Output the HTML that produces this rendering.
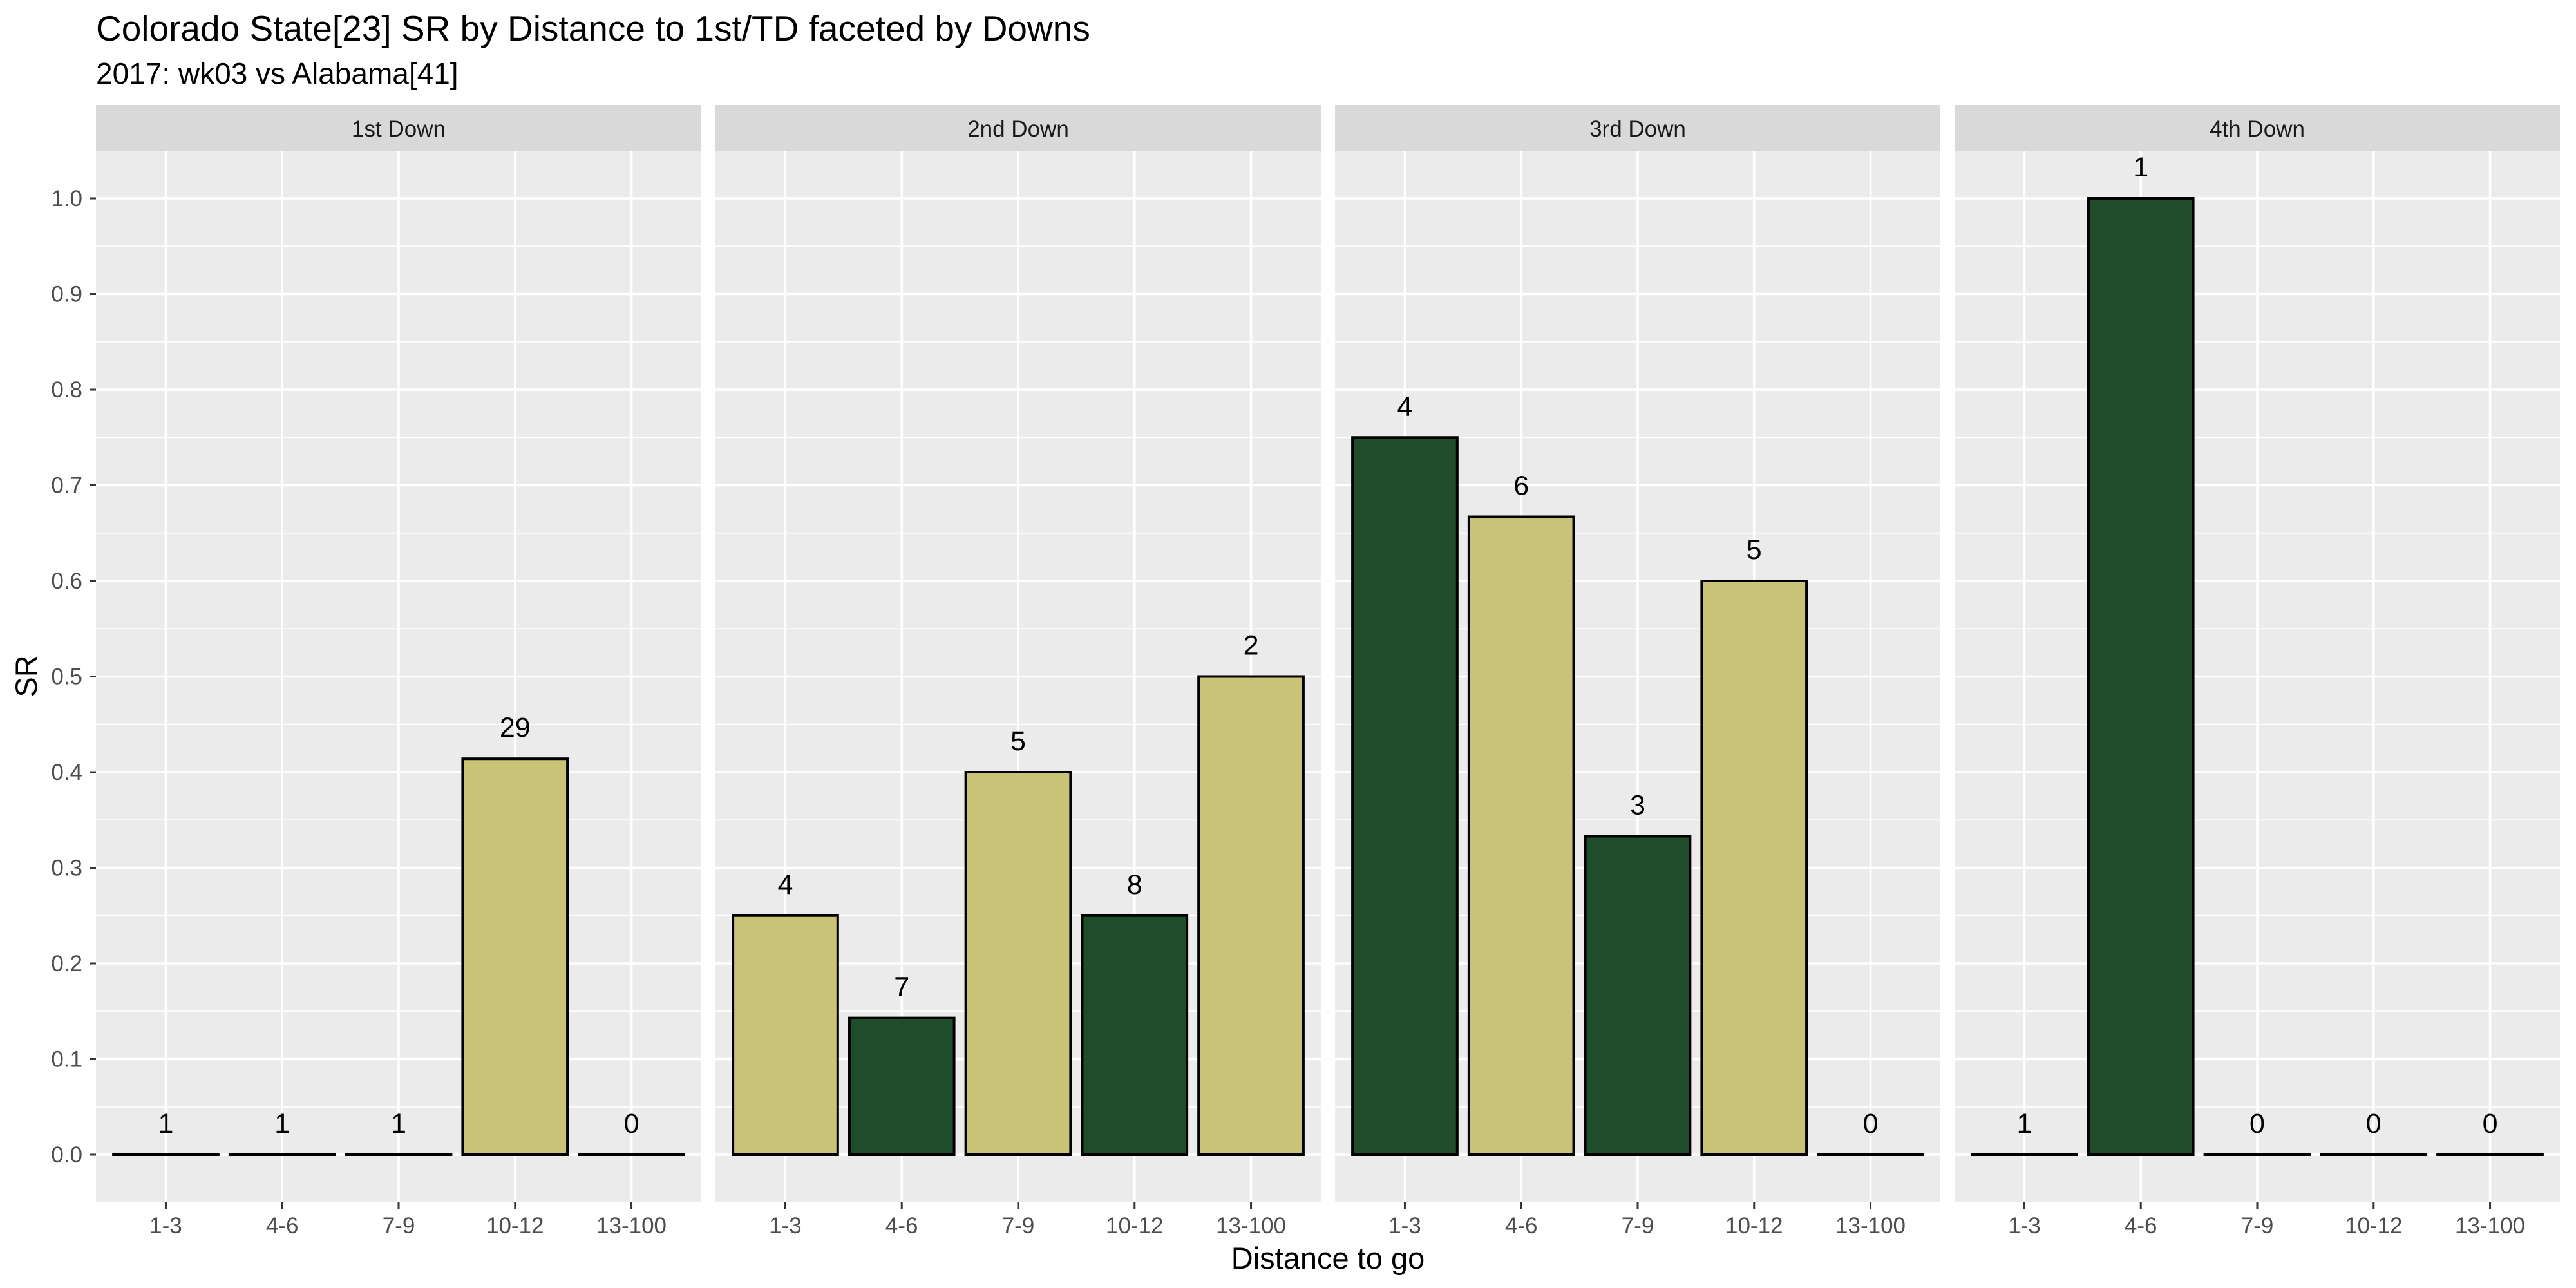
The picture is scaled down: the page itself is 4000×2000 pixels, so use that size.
<!DOCTYPE html>
<html><head><meta charset="utf-8"><style>
html,body{margin:0;padding:0;background:#fff}
svg{display:block;font-family:"Liberation Sans",Arial,sans-serif}
</style></head><body>
<svg id="chart" width="4000" height="2000" viewBox="0 0 4000 2000" xmlns="http://www.w3.org/2000/svg">
<rect width="4000" height="2000" fill="#fff"/>
<text x="149" y="63" font-size="55" fill="#000">Colorado State[23] SR by Distance to 1st/TD faceted by Downs</text>
<text x="149" y="130" font-size="46" fill="#000">2017: wk03 vs Alabama[41]</text>
<text transform="translate(57,1050) rotate(-90)" text-anchor="middle" font-size="47" fill="#000">SR</text>
<text x="2062" y="1970" text-anchor="middle" font-size="47" fill="#000">Distance to go</text>
<g id="plots"></g>
</svg>
<script>
const facets = ["1st Down","2nd Down","3rd Down","4th Down"];
const categories = ["1-3","4-6","7-9","10-12","13-100"];
const srDown1 = [0, 0, 0, 0.414, 0];
const srDown2 = [0.25, 0.143, 0.4, 0.25, 0.5];
const srDown3 = [0.75, 0.667, 0.333, 0.6, 0];
const srDown4 = [0, 1.0, 0, 0, 0];
const countDown1 = ["1","1","1","29","0"];
const countDown2 = ["4","7","5","8","2"];
const countDown3 = ["4","6","3","5","0"];
const countDown4 = ["1","1","0","0","0"];
const groupDown1 = ["k","k","k","k","k"];
const groupDown2 = ["k","g","k","g","k"];
const groupDown3 = ["g","k","g","k","g"];
const groupDown4 = ["g","g","g","g","g"];
const yTicks = [0,0.1,0.2,0.3,0.4,0.5,0.6,0.7,0.8,0.9,1.0];
const yTickLabels = ["0.0","0.1","0.2","0.3","0.4","0.5","0.6","0.7","0.8","0.9","1.0"];

const srs=[srDown1,srDown2,srDown3,srDown4];
const counts=[countDown1,countDown2,countDown3,countDown4];
const groups=[groupDown1,groupDown2,groupDown3,groupDown4];
const colors={k:"#C8C376",g:"#1F4D2B"};
const NS="http://www.w3.org/2000/svg";
const panelLeft0=149, panelW=940, gap=22, stripTop=163, panelTop=235, panelBot=1867;
const y0px=1793, y1px=308;
function yScale(v){return y0px+(y1px-y0px)*v;}
const band=panelW/5.2;
function xScale(p,i){return panelLeft0+p*(panelW+gap)+band*(0.6+i);}
const root=document.getElementById('plots');
function mk(tag,attrs,parent){const e=document.createElementNS(NS,tag);for(const k in attrs)e.setAttribute(k,attrs[k]);(parent||root).appendChild(e);return e;}

yTicks.forEach((t,i)=>{
  const y=yScale(t);
  const l=mk('line',{x1:139,x2:149,y1:y,y2:y,stroke:'#333','stroke-width':3});
  
  
  const tx=mk('text',{x:128,y:y+12,'text-anchor':'end','font-size':35,fill:'#4d4d4d'});
  tx.textContent=yTickLabels[i];
  
  
});

facets.forEach((f,p)=>{
  const px=panelLeft0+p*(panelW+gap);
  const g=mk('g',{});
  
  
  const strip=mk('rect',{x:px,y:stripTop,width:panelW,height:panelTop-stripTop,fill:'#D9D9D9'},g);
  
  
  const st=mk('text',{x:px+panelW/2,y:212,'text-anchor':'middle','font-size':35,fill:'#1a1a1a'},g);
  st.textContent=f;
  
  
  const bg=mk('rect',{x:px,y:panelTop,width:panelW,height:panelBot-panelTop,fill:'#EBEBEB'},g);
  
  
  [0.05,0.15,0.25,0.35,0.45,0.55,0.65,0.75,0.85,0.95].forEach(v=>{
    const y=yScale(v);
    const gl=mk('line',{x1:px,x2:px+panelW,y1:y,y2:y,stroke:'#fff','stroke-width':1.8},g);
    
    
  });
  yTicks.forEach(v=>{
    const y=yScale(v);
    const gl=mk('line',{x1:px,x2:px+panelW,y1:y,y2:y,stroke:'#fff','stroke-width':3.6},g);
    
    
  });
  categories.forEach((c,i)=>{
    const x=xScale(p,i);
    const vl=mk('line',{x1:x,x2:x,y1:panelTop,y2:panelBot,stroke:'#fff','stroke-width':3.6},g);
    
    
    const tk=mk('line',{x1:x,x2:x,y1:panelBot,y2:panelBot+10,stroke:'#333','stroke-width':3},g);
    
    
    const tl=mk('text',{x:x,y:1915,'text-anchor':'middle','font-size':35,fill:'#4d4d4d'},g);
    tl.textContent=c;
    
    
  });
  categories.forEach((c,i)=>{
    const v=srs[p][i];
    const x=xScale(p,i), bw=band*0.9;
    const yt=yScale(v), h=y0px-yt;
    let b;
    if(h>0.5){
      b=mk('rect',{x:x-bw/2,y:yt,width:bw,height:h,fill:colors[groups[p][i]],stroke:'#000','stroke-width':4},g);
    } else {
      b=mk('line',{x1:x-bw/2-2,x2:x+bw/2+2,y1:yt,y2:yt,stroke:'#000','stroke-width':4},g);
    }
    
    
    const lb=mk('text',{x:x,y:yt-34,'text-anchor':'middle','font-size':43,fill:'#000'},g);
    lb.textContent=counts[p][i];
    
    
  });
});
</script>
</body></html>
